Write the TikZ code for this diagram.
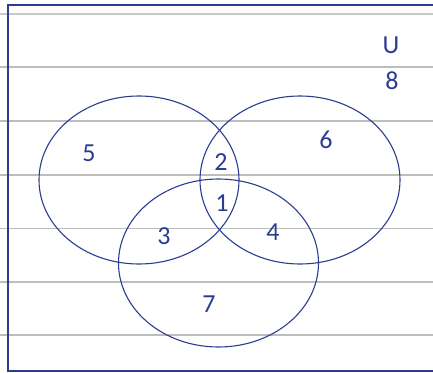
\documentclass[tikz,border=0pt]{standalone}
\usepackage{fontspec}
\setmainfont{Carlito}
\usetikzlibrary{shapes.geometric}
\definecolor{cnavy}{HTML}{2B3D91}
\definecolor{crule}{HTML}{BDBDBD}
\definecolor{crulelight}{HTML}{C8C8C8}
\tikzset{
  every picture/.style={x=1pt, y=-1pt},
  set/.style={draw=cnavy, ellipse, line width=1.1pt, minimum width=200pt, minimum height=168pt, inner sep=0pt},
  rule/.style={draw=crule, line width=1.4pt},
  frame/.style={draw=cnavy, line width=1.8pt},
  lab/.style={text=cnavy, font=\fontsize{26}{30}\selectfont, inner sep=0pt},
}
\begin{document}
\begin{tikzpicture}
  \useasboundingbox (0,0) rectangle (433,372);
  \begin{scope}
  \clip (0,0) rectangle (433,372);
  % ruled paper
  \draw[rule, draw=crulelight, line width=2.4pt] (0,14) -- (433,14);
  \foreach \y in {67,121,175,228.5,282,335}
    \draw[rule] (0,\y) -- (433,\y);
  \draw[frame] (445,5) -- (8,5) -- (8,371) -- (445,371);
  \end{scope}
  % the three sets
  \node[set] (setA) at (139,180) {};
  \node[set] (setB) at (300,180) {};
  \node[set] (setC) at (218.5,263) {};
  % region counts
  \node[lab] (u) at (391,45) {U};
  \node[lab] (n8) at (392,81) {8};
  \node[lab] (n5) at (89,153) {5};
  \node[lab] (n6) at (326,140) {6};
  \node[lab] (n2) at (221,162) {2};
  \node[lab] (n1) at (222,203) {1};
  \node[lab] (n3) at (164,236) {3};
  \node[lab] (n4) at (273,232) {4};
  \node[lab] (n7) at (209,304) {7};
\end{tikzpicture}
\end{document}
